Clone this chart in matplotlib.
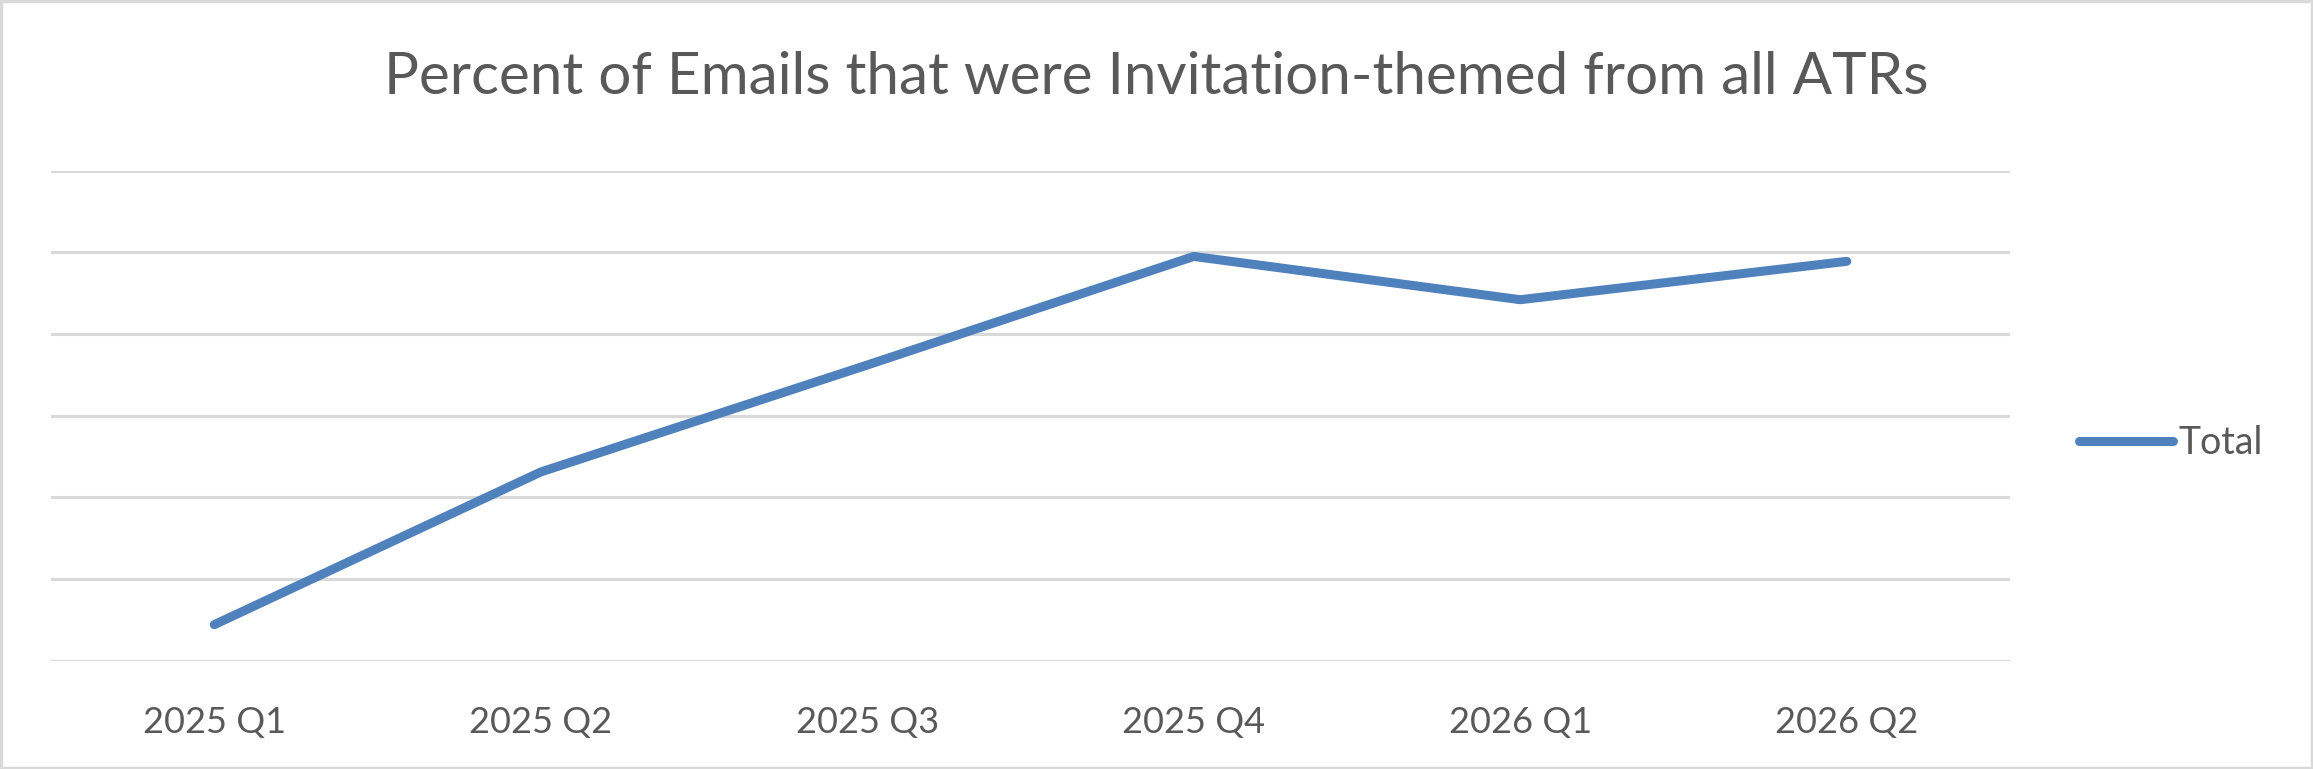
import matplotlib.pyplot as plt
from matplotlib.patches import Rectangle

# data (y in gridline units, no labels shown)
quarters = ["2025 Q1", "2025 Q2", "2025 Q3", "2025 Q4", "2026 Q1", "2026 Q2"]
total = [0.44, 2.31, 3.62, 4.95, 4.42, 4.89]
grid_levels = [0, 1, 2, 3, 4, 5, 6]

text_color = "#595959"
grid_color = "#D9D9D9"
line_color = "#4F81BD"

plt.rcParams['font.family'] = ['Lato', 'DejaVu Sans']

fig = plt.figure(figsize=(23.13, 7.69), dpi=100)
ax = fig.add_axes([51 / 2313, 1 - 660.6 / 769, (2010 - 51) / 2313, (660.6 - 170.7) / 769])

x = list(range(len(quarters)))
line, = ax.plot(x, total, color=line_color, linewidth=6.5, solid_capstyle='round',
                solid_joinstyle='round', label="Total", zorder=3)

ax.set_xlim(-0.5, len(quarters) - 0.5)
ax.set_ylim(grid_levels[0], grid_levels[-1])
ax.set_yticks(grid_levels)
ax.set_yticklabels([])
ax.tick_params(axis='y', length=0)
ax.yaxis.grid(True, color=grid_color, linewidth=2.2)
ax.set_axisbelow(True)

ax.set_xticks(x)
ax.set_xticklabels(quarters, fontsize=26, color=text_color)
ax.tick_params(axis='x', length=0, pad=33)

for s in ax.spines.values():
    s.set_visible(False)

fig.text(1156 / 2313, 1 - 77 / 769, "Percent of Emails that were Invitation-themed from all ATRs",
         ha='center', va='center', fontsize=42, color=text_color)

fig.legend(handles=[line], loc='center left', bbox_to_anchor=(2064 / 2313, 1 - 443 / 769),
           frameon=False, fontsize=27, labelcolor=text_color, handlelength=2.5,
           handletextpad=0.15, borderaxespad=0)

# light chart border
fig.patches.append(Rectangle((0.0005, 0.001), 0.999, 0.998, transform=fig.transFigure,
                             fill=False, edgecolor=grid_color, linewidth=2.5))

fig.savefig("out.png", dpi=100)
